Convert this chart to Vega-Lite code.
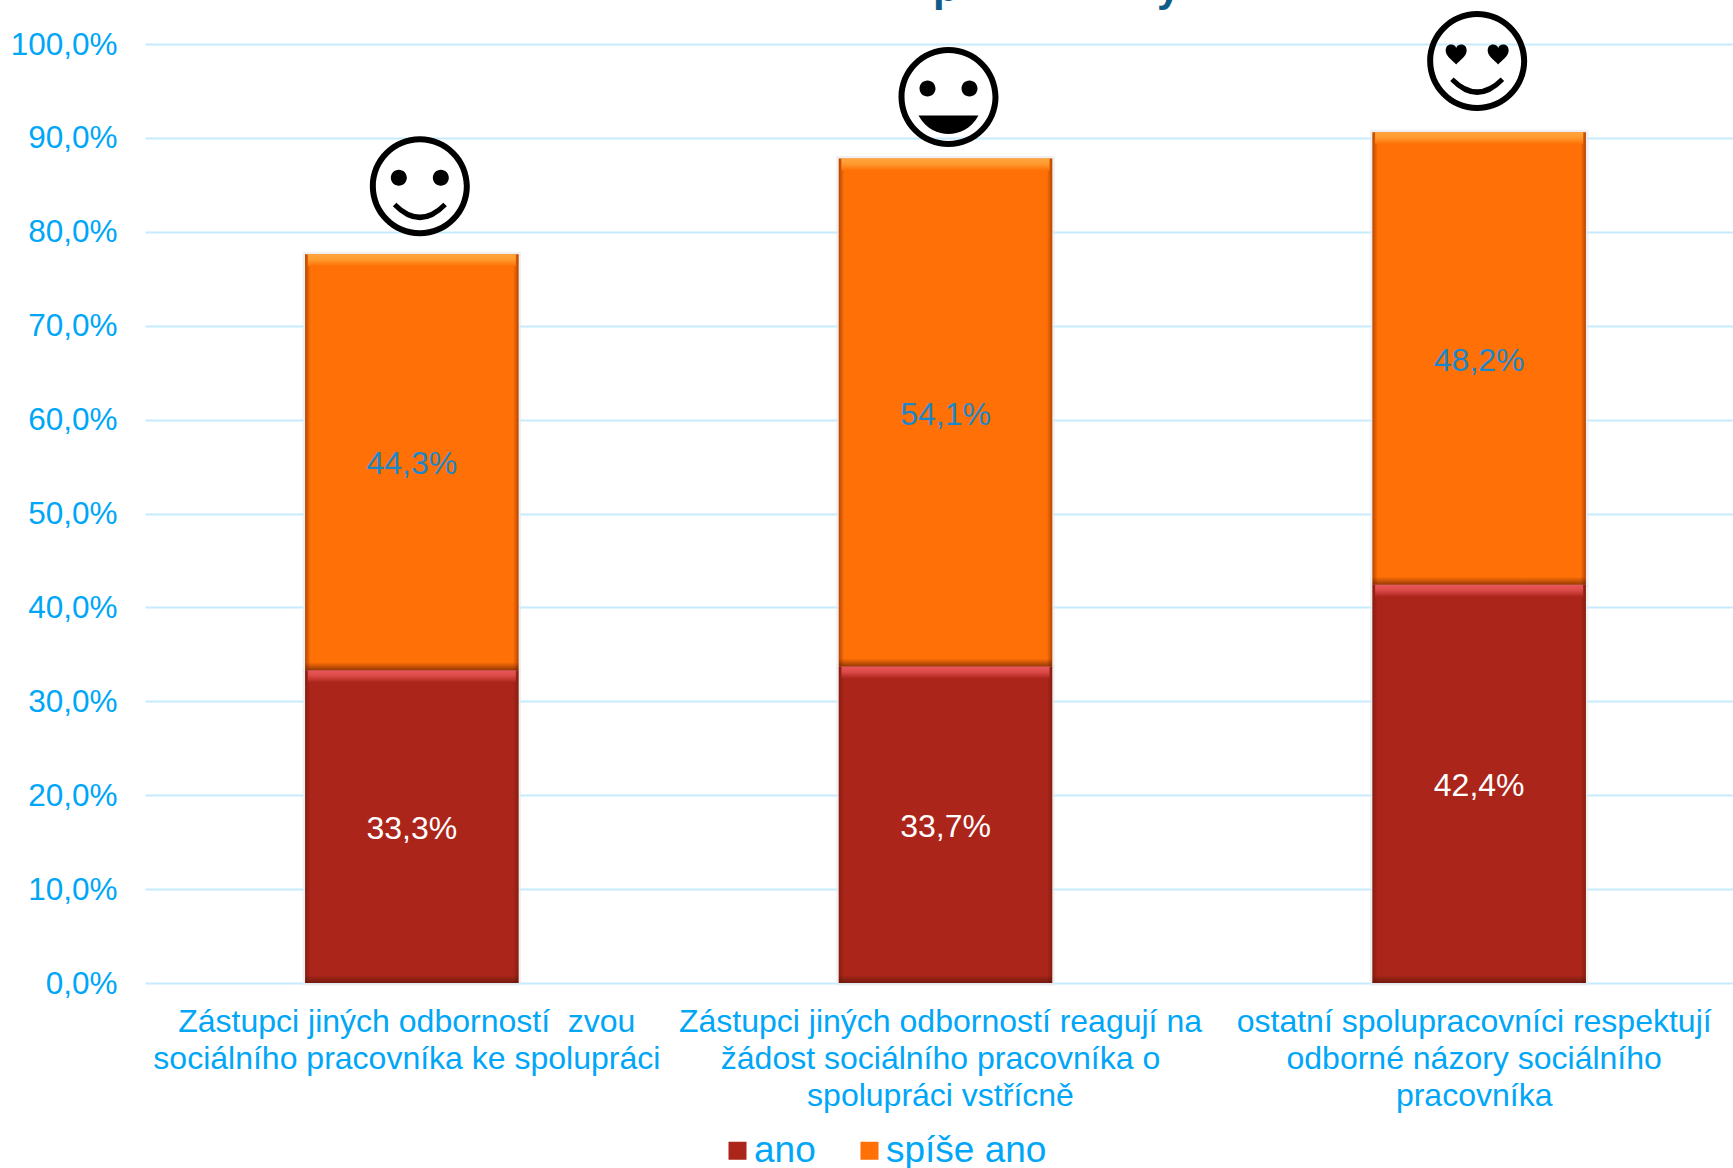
{
"$schema":"https://vega.github.io/schema/vega-lite/v6.json",
"width":1588,"height":939,
"autosize":{"type":"none"},
"padding":{"left":145,"top":44,"right":0,"bottom":185},
"background":"white",
"title":{"text":"p\u00a0\u00a0\u00a0\u00a0\u00a0\u00a0\u00a0\u00a0\u00a0\u00a0\u00a0\u00a0\u00a0\u00a0\u00a0\u00a0\u00a0y","anchor":"start","frame":"group","dx":788,"offset":-32,"baseline":"alphabetic","font":"Liberation Sans","fontWeight":"bold","fontSize":42,"color":"#0F5C88"},
"config":{"view":{"stroke":null},"font":"Liberation Sans"},
"data":{"values":[
{"cat":"Zástupci jiných odborností\u00a0 zvou\nsociálního pracovníka ke spolupráci","series":"ano","value":33.3,"label":"33,3%"},
{"cat":"Zástupci jiných odborností\u00a0 zvou\nsociálního pracovníka ke spolupráci","series":"spíše ano","value":44.3,"label":"44,3%"},
{"cat":"Zástupci jiných odborností reagují na\nžádost sociálního pracovníka o\nspolupráci vstřícně","series":"ano","value":33.7,"label":"33,7%"},
{"cat":"Zástupci jiných odborností reagují na\nžádost sociálního pracovníka o\nspolupráci vstřícně","series":"spíše ano","value":54.1,"label":"54,1%"},
{"cat":"ostatní spolupracovníci respektují\nodborné názory sociálního\npracovníka","series":"ano","value":42.4,"label":"42,4%"},
{"cat":"ostatní spolupracovníci respektují\nodborné názory sociálního\npracovníka","series":"spíše ano","value":48.2,"label":"48,2%"}
]},
"transform":[{"stack":"value","groupby":["cat"],"sort":[{"field":"series","order":"ascending"}],"as":["y0","y1"]}],
"encoding":{"x":{"field":"cat","type":"nominal","title":null,
 "scale":{"domain":["Zástupci jiných odborností\u00a0 zvou\nsociálního pracovníka ke spolupráci","Zástupci jiných odborností reagují na\nžádost sociálního pracovníka o\nspolupráci vstřícně","ostatní spolupracovníci respektují\nodborné názory sociálního\npracovníka"],"range":[0,1601],"paddingInner":0.6,"paddingOuter":0.3},
 "axis":{"labelExpr":"split(datum.label,'\\n')","labelAngle":0,"labelFontSize":32,"labelColor":"#00A6F7","labelFont":"Liberation Sans","labelLimit":0,"labelLineHeight":37,"labelPadding":23,"labelBaseline":"top","labelAlign":"center","labelOffset":-5,"ticks":false,"domain":false,"grid":false}}},
"layer":[
{"mark":{"type":"bar","fill":null,"stroke":"#E9E9E9","strokeWidth":5,"strokeOpacity":0.7},
 "encoding":{"y":{"field":"y0","type":"quantitative","title":null,"scale":{"domain":[0,100],"nice":false},
   "axis":{"values":[0,10,20,30,40,50,60,70,80,90,100],"labelExpr":"replace(format(datum.value,'.1f'),'.',',')+'%'","labelFontSize":31.5,"labelColor":"#00A6F7","labelFont":"Liberation Sans","labelPadding":28,"labelOffset":1,"ticks":false,"domain":false,"grid":true,"gridColor":"#C6EBFD","gridWidth":2,"gridOpacity":1,"zindex":0}},"y2":{"field":"y1"}}},
{"mark":{"type":"bar"},
 "encoding":{"y":{"field":"y0","type":"quantitative"},"y2":{"field":"y1"},
  "color":{"field":"series","type":"nominal","scale":{"domain":["ano","spíše ano"],"range":["#AB251B","#FF7006"]},
   "legend":{"title":null,"orient":"none","legendX":574,"legendY":1088,"direction":"horizontal","symbolType":"square","symbolSize":324,"symbolStrokeWidth":0,"symbolOpacity":1,"labelFontSize":37,"labelColor":"#00A6F7","labelFont":"Liberation Sans","labelOffset":-2,"columnPadding":35,"labelLimit":0}}}},
{"mark":{"type":"bar","fill":{"gradient":"linear","x1":0,"y1":0,"x2":1,"y2":0,"stops":[{"offset":0,"color":"rgba(90,20,5,0.45)"},{"offset":0.025,"color":"rgba(90,20,5,0)"},{"offset":0.975,"color":"rgba(90,20,5,0)"},{"offset":1,"color":"rgba(90,20,5,0.45)"}]}},
 "encoding":{"y":{"field":"y0","type":"quantitative"},"y2":{"field":"y1"}}},
{"transform":[{"filter":"datum.series==='ano'"}],
 "mark":{"type":"tick","size":208,"thickness":12,"yOffset":6,"fill":{"gradient":"linear","x1":0,"y1":0,"x2":0,"y2":1,"stops":[{"offset":0,"color":"#E9585A"},{"offset":0.45,"color":"#DC4A48"},{"offset":1,"color":"#AB251B"}]},"opacity":1},
 "encoding":{"y":{"field":"y1","type":"quantitative"}}},
{"transform":[{"filter":"datum.series==='spíše ano'"}],
 "mark":{"type":"tick","size":208,"thickness":12,"yOffset":6,"fill":{"gradient":"linear","x1":0,"y1":0,"x2":0,"y2":1,"stops":[{"offset":0,"color":"#FFA63D"},{"offset":0.45,"color":"#FF9A2E"},{"offset":1,"color":"#FF7006"}]},"opacity":1},
 "encoding":{"y":{"field":"y1","type":"quantitative"}}},
{"mark":{"type":"tick","size":213,"thickness":8,"yOffset":-4,"fill":{"gradient":"linear","x1":0,"y1":0,"x2":0,"y2":1,"stops":[{"offset":0,"color":"rgba(80,20,5,0)"},{"offset":1,"color":"rgba(80,20,5,0.6)"}]},"opacity":1},
 "encoding":{"y":{"field":"y0","type":"quantitative"}}},
{"mark":{"type":"text","font":"Liberation Sans","fontSize":32,"dy":2},
 "encoding":{"y":{"field":"value","type":"quantitative","stack":"zero","bandPosition":0.5},
  "order":{"field":"series"},
  "text":{"field":"label"},
  "color":{"condition":{"test":"datum.series==='ano'","value":"#FFFFFF"},"value":"#1B87CB"}}},
{"data":{"values":[{"cat":"Zástupci jiných odborností\u00a0 zvou\nsociálního pracovníka ke spolupráci","level":84.85}]},
 "mark":{"type":"point","filled":true,"fill":"black","size":10000,"opacity":1,"strokeWidth":0,"xOffset":8,
  "shape":"M-1,0A1,1 0 1,1 1,0A1,1 0 1,1 -1,0Z M-0.88,0A0.88,0.88 0 1,0 0.88,0A0.88,0.88 0 1,0 -0.88,0Z M-0.58,-0.17A0.16,0.16 0 1,1 -0.26,-0.17A0.16,0.16 0 1,1 -0.58,-0.17Z M0.26,-0.17A0.16,0.16 0 1,1 0.58,-0.17A0.16,0.16 0 1,1 0.26,-0.17Z M-0.54,0.4 Q0,0.96 0.54,0.4 L0.47,0.33 Q0,0.8 -0.47,0.33 Z"},
 "encoding":{"y":{"field":"level","type":"quantitative"}}},
{"data":{"values":[{"cat":"Zástupci jiných odborností reagují na\nžádost sociálního pracovníka o\nspolupráci vstřícně","level":94.35}]},
 "mark":{"type":"point","filled":true,"fill":"black","size":10000,"opacity":1,"strokeWidth":0,"xOffset":3,
  "shape":"M-1,0A1,1 0 1,1 1,0A1,1 0 1,1 -1,0Z M-0.88,0A0.88,0.88 0 1,0 0.88,0A0.88,0.88 0 1,0 -0.88,0Z M-0.58,-0.17A0.16,0.16 0 1,1 -0.26,-0.17A0.16,0.16 0 1,1 -0.58,-0.17Z M0.26,-0.17A0.16,0.16 0 1,1 0.58,-0.17A0.16,0.16 0 1,1 0.26,-0.17Z M-0.6,0.37 L0.6,0.37 C0.45,0.65 0.2,0.74 0,0.74 C-0.2,0.74 -0.45,0.65 -0.6,0.37 Z"},
 "encoding":{"y":{"field":"level","type":"quantitative"}}},
{"data":{"values":[{"cat":"ostatní spolupracovníci respektují\nodborné názory sociálního\npracovníka","level":98.2}]},
 "mark":{"type":"point","filled":true,"fill":"black","size":10000,"opacity":1,"strokeWidth":0,"xOffset":-2,
  "shape":"M-1,0A1,1 0 1,1 1,0A1,1 0 1,1 -1,0Z M-0.88,0A0.88,0.88 0 1,0 0.88,0A0.88,0.88 0 1,0 -0.88,0Z M-0.42,0.07 C-0.5,-0.02 -0.63,-0.1 -0.63,-0.21 C-0.63,-0.3 -0.57,-0.33 -0.52,-0.33 C-0.47,-0.33 -0.43,-0.3 -0.42,-0.26 C-0.41,-0.3 -0.37,-0.33 -0.32,-0.33 C-0.27,-0.33 -0.21,-0.3 -0.21,-0.21 C-0.21,-0.1 -0.34,-0.02 -0.42,0.07 Z M0.42,0.07 C0.34,-0.02 0.21,-0.1 0.21,-0.21 C0.21,-0.3 0.27,-0.33 0.32,-0.33 C0.37,-0.33 0.41,-0.3 0.42,-0.26 C0.43,-0.3 0.47,-0.33 0.52,-0.33 C0.57,-0.33 0.63,-0.3 0.63,-0.21 C0.63,-0.1 0.5,-0.02 0.42,0.07 Z M-0.54,0.4 Q0,0.96 0.54,0.4 L0.47,0.33 Q0,0.8 -0.47,0.33 Z"},
 "encoding":{"y":{"field":"level","type":"quantitative"}}}
]
}
